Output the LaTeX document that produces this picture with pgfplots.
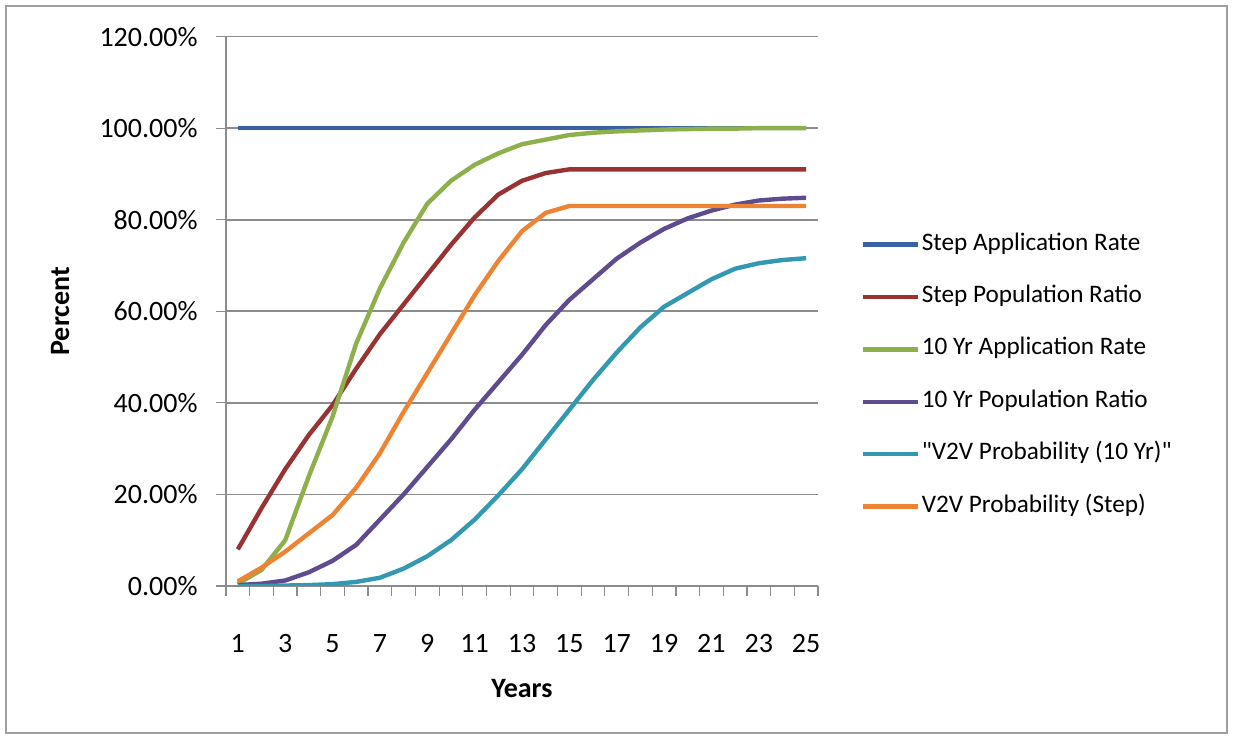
\documentclass[border=0pt]{standalone}
\usepackage{pgfplots}
\pgfplotsset{compat=1.18}
\usepackage{pgfplotstable}
\usepackage{fontspec}
\setmainfont{Carlito}
\newfontfamily\plainq{Carlito}[Ligatures=ResetAll]

\definecolor{cblue}{HTML}{3B62A3}
\definecolor{cred}{HTML}{993333}
\definecolor{cgreen}{HTML}{8DB04C}
\definecolor{cpurple}{HTML}{5E4C8E}
\definecolor{ccyan}{HTML}{3399B3}
\definecolor{corange}{HTML}{EC8433}
\definecolor{gridgray}{HTML}{8C8C8C}

% year, step app, step pop, 10yr app, 10yr pop, v2v 10yr, v2v step
\pgfplotstableread{
yr  sa    sp    ta    tp    vt    vs
1   100   8     0.5   0.2   0     1
2   100   17    3.5   0.5   0     4
3   100   25.5  10    1.2   0.1   7.5
4   100   33    24    3     0.2   11.5
5   100   39.5  37    5.5   0.4   15.5
6   100   47.5  53    9     0.9   21.5
7   100   55    65    14.5  1.8   29
8   100   61.5  75    20    3.8   38
9   100   68    83.5  26    6.5   46.5
10  100   74.5  88.5  32    10    55
11  100   80.5  92    38.5  14.5  63.5
12  100   85.5  94.5  44.5  19.8  71
13  100   88.5  96.5  50.5  25.5  77.5
14  100   90.2  97.5  57    32    81.5
15  100   91    98.5  62.5  38.5  83
16  100   91    99    67    45    83
17  100   91    99.3  71.5  51    83
18  100   91    99.5  75    56.5  83
19  100   91    99.7  78    61    83
20  100   91    99.8  80.3  64    83
21  100   91    99.9  82    67    83
22  100   91    99.9  83.3  69.3  83
23  100   91    100   84.2  70.5  83
24  100   91    100   84.6  71.2  83
25  100   91    100   84.8  71.6  83
}\data

\begin{document}
\begin{tikzpicture}
\useasboundingbox (-113pt,-76pt) rectangle (503.5pt,293pt);
\draw[gray!75, line width=1pt] (-110pt,-73.5pt) rectangle (500.5pt,290pt);
\begin{axis}[
  at={(0,0)}, anchor=south west,
  scale only axis,
  width=296pt, height=274.7pt,
  xmin=0.5, xmax=25.5,
  ymin=0, ymax=120,
  axis x line*=bottom,
  axis y line*=left,
  axis line style={gridgray, line width=0.8pt},
  xtick={1,3,...,25},
  minor xtick={0.5,1.5,...,25.5},
  ytick={0,20,...,120},
  major x tick style={draw=none},
  minor x tick style={gridgray, line width=0.6pt},
  y tick style={gridgray, line width=0.6pt},
  tick align=outside,
  major tick length=5pt,
  minor tick length=5pt,
  ymajorgrids=true,
  grid style={gridgray, line width=0.8pt},
  /pgf/number format/assume math mode=true,
  tick label style={font=\fontsize{14}{16}\selectfont},
  yticklabel={\pgfmathprintnumber[fixed,fixed zerofill,precision=2]{\tick}\%},
  yticklabel style={inner sep=0pt, anchor=east, xshift=-9pt},
  xticklabel style={inner sep=0pt, anchor=north, yshift=-19pt},
  xlabel={\textbf{Years}},
  ylabel={\textbf{Percent}},
  label style={font=\fontsize{14}{16}\selectfont},
  xlabel style={at={(axis description cs:0.5,-0.186)}, anchor=center},
  ylabel style={at={(axis description cs:-0.28,0.5)}, anchor=center},
  every axis plot/.append style={line width=2.2pt, no markers},
  legend style={at={(rel axis cs:1.071,0.645)}, anchor=north west, draw=none,
    fill=none, inner sep=0pt, row sep=13.7pt,
    font=\fontsize{12.6}{14}\selectfont,
    nodes={inner sep=1pt, text height=8pt, text depth=2.5pt}},
  legend cell align=left,
  legend image code/.code={\draw[#1] (0pt,0pt) -- (27.5pt,0pt);},
]
\addplot[cblue] table[x=yr,y=sa] {\data};
\addlegendentry{Step Application Rate}
\addplot[cred] table[x=yr,y=sp] {\data};
\addlegendentry{Step Population Ratio}
\addplot[cgreen] table[x=yr,y=ta] {\data};
\addlegendentry{10 Yr Application Rate}
\addplot[cpurple] table[x=yr,y=tp] {\data};
\addlegendentry{10 Yr Population Ratio}
\addplot[ccyan] table[x=yr,y=vt] {\data};
\addlegendentry{{\plainq"}V2V Probability (10 Yr){\plainq"}}
\addplot[corange] table[x=yr,y=vs] {\data};
\addlegendentry{V2V Probability (Step)}
\end{axis}
\end{tikzpicture}
\end{document}
